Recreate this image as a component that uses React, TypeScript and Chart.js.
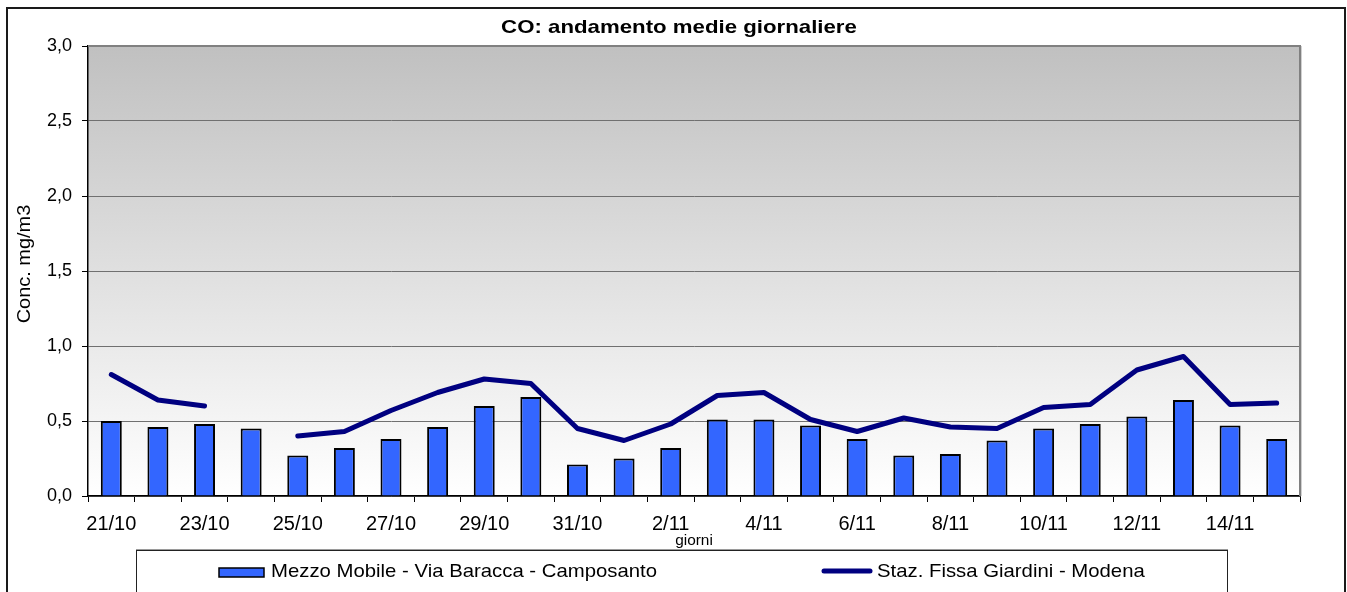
import React, { useEffect, useRef } from "react";
import { Chart, registerables } from "chart.js";

Chart.register(...registerables);

const categories = [
  "21/10", "22/10", "23/10", "24/10", "25/10", "26/10", "27/10", "28/10", "29/10", "30/10", "31/10",
  "1/11", "2/11", "3/11", "4/11", "5/11", "6/11", "7/11", "8/11", "9/11", "10/11", "11/11", "12/11", "13/11", "14/11", "15/11",
];

const mezzoMobile = [
  0.50, 0.46, 0.48, 0.45, 0.27, 0.32, 0.38, 0.46, 0.60, 0.66, 0.21,
  0.25, 0.32, 0.51, 0.51, 0.47, 0.38, 0.27, 0.28, 0.37, 0.45, 0.48, 0.53, 0.64, 0.47, 0.38,
];

const stazFissa: (number | null)[] = [
  0.81, 0.64, 0.60, null, 0.40, 0.43, 0.57, 0.69, 0.78, 0.75, 0.45,
  0.37, 0.48, 0.67, 0.69, 0.51, 0.43, 0.52, 0.46, 0.45, 0.59, 0.61, 0.84, 0.93, 0.61, 0.62,
];

const yTicks = [0, 0.5, 1.0, 1.5, 2.0, 2.5, 3.0];

const TITLE = "CO: andamento medie giornaliere";
const Y_TITLE = "Conc. mg/m3";
const X_TITLE = "giorni";
const BAR_LABEL = "Mezzo Mobile - Via Baracca - Camposanto";
const LINE_LABEL = "Staz. Fissa Giardini - Modena";

const FONT = '"Liberation Sans", Arial, sans-serif';
const BAR_COLOR = "#3366FF";
const LINE_COLOR = "#000080";

function stretchedText(
  ctx: CanvasRenderingContext2D,
  text: string,
  x: number,
  y: number,
  sx: number,
  align: CanvasTextAlign,
  rotate = 0
) {
  ctx.save();
  ctx.translate(x, y);
  if (rotate) ctx.rotate(rotate);
  ctx.scale(sx, 1);
  ctx.textAlign = align;
  ctx.textBaseline = "middle";
  ctx.fillText(text, 0, 0);
  ctx.restore();
}

const decorPlugin = {
  id: "decor",
  beforeDraw(chart: any) {
    const { ctx, chartArea: a } = chart;
    ctx.save();
    ctx.fillStyle = "#ffffff";
    ctx.fillRect(0, 0, chart.width, chart.height);
    const g = ctx.createLinearGradient(0, a.top, 0, a.bottom);
    g.addColorStop(0, "#c0c0c0");
    g.addColorStop(1, "#ffffff");
    ctx.fillStyle = g;
    ctx.fillRect(a.left, a.top, a.right - a.left, a.bottom - a.top);
    ctx.restore();
  },
  afterDraw(chart: any) {
    const { ctx, chartArea: a } = chart;
    ctx.save();
    ctx.strokeStyle = "#808080";
    ctx.lineWidth = 2;
    ctx.beginPath();
    ctx.moveTo(a.left, a.top);
    ctx.lineTo(a.right, a.top);
    ctx.lineTo(a.right, a.bottom);
    ctx.stroke();
    ctx.strokeStyle = "#d0d0d0";
    ctx.lineWidth = 1;
    ctx.beginPath();
    ctx.moveTo(a.right + 1.5, a.top);
    ctx.lineTo(a.right + 1.5, a.bottom);
    ctx.stroke();

    ctx.strokeStyle = "#1a1a1a";
    ctx.lineWidth = 2;
    ctx.strokeRect(7, 8, 1338, 620);

    ctx.fillStyle = "#000";
    ctx.font = `bold 19px ${FONT}`;
    stretchedText(ctx, TITLE, 679, 28, 1.17, "center");

    ctx.font = `19px ${FONT}`;
    stretchedText(ctx, Y_TITLE, 25, 264, 1.05, "center", -Math.PI / 2);

    ctx.font = `14px ${FONT}`;
    stretchedText(ctx, X_TITLE, (a.left + a.right) / 2, 541, 1.1, "center");

    ctx.strokeStyle = "#9a9a9a";
    ctx.lineWidth = 1;
    ctx.beginPath();
    ctx.moveTo(136, 549.5);
    ctx.lineTo(1228, 549.5);
    ctx.stroke();
    ctx.strokeStyle = "#222";
    ctx.strokeRect(136.5, 550.5, 1091, 80);

    const ds = chart.data.datasets;
    ctx.fillStyle = BAR_COLOR;
    ctx.fillRect(219, 568, 45, 9);
    ctx.strokeStyle = "#000";
    ctx.lineWidth = 1.5;
    ctx.strokeRect(219, 568, 45, 9);
    ctx.fillStyle = "#000";
    ctx.font = `19px ${FONT}`;
    stretchedText(ctx, ds[0].label, 271, 572, 1.07, "left");

    ctx.strokeStyle = LINE_COLOR;
    ctx.lineWidth = 5;
    ctx.lineCap = "round";
    ctx.beginPath();
    ctx.moveTo(824, 571);
    ctx.lineTo(870, 571);
    ctx.stroke();
    ctx.fillStyle = "#000";
    stretchedText(ctx, ds[1].label, 877, 572, 1.07, "left");
    ctx.restore();
  },
};

export default function App() {
  const ref = useRef<HTMLCanvasElement>(null);

  useEffect(() => {
    if (!ref.current) return;
    const chart = new Chart(ref.current, {
      type: "bar",
      data: {
        labels: categories,
        datasets: [
          {
            type: "bar",
            label: BAR_LABEL,
            data: mezzoMobile,
            backgroundColor: BAR_COLOR,
            borderColor: "#000000",
            borderWidth: 2,
            categoryPercentage: 1,
            barPercentage: 0.45,
            order: 2,
          },
          {
            type: "line",
            label: LINE_LABEL,
            data: stazFissa,
            borderColor: LINE_COLOR,
            backgroundColor: LINE_COLOR,
            borderWidth: 5,
            pointRadius: 0,
            spanGaps: false,
            tension: 0,
            borderCapStyle: "round",
            borderJoinStyle: "round",
            order: 1,
          } as any,
        ],
      },
      options: {
        responsive: false,
        animation: false,
        events: [],
        layout: { padding: { top: 46, right: 47, left: 0, bottom: 0 } },
        plugins: {
          legend: { display: false },
          title: { display: false },
          tooltip: { enabled: false },
        },
        scales: {
          x: {
            type: "category",
            offset: true,
            grid: {
              display: true,
              offset: true,
              drawOnChartArea: false,
              drawTicks: true,
              tickLength: 6,
              tickColor: "#000",
              tickWidth: 1,
            },
            border: { display: true, color: "#000", width: 1.5 },
            ticks: {
              autoSkip: false,
              maxRotation: 0,
              minRotation: 0,
              padding: 10,
              color: "#000",
              font: { family: FONT, size: 20 },
              callback: (_v: any, i: number) => (i % 2 === 0 ? categories[i] : ""),
            },
            afterFit: (s: any) => {
              s.height = 96;
            },
          },
          y: {
            type: "linear",
            min: yTicks[0],
            max: yTicks[yTicks.length - 1],
            afterBuildTicks: (s: any) => {
              s.ticks = yTicks.map((v) => ({ value: v }));
            },
            grid: {
              color: "#707070",
              lineWidth: 1,
              drawTicks: true,
              tickLength: 6,
              tickColor: "#000",
            },
            border: { display: true, color: "#000", width: 1.5 },
            ticks: {
              padding: 10,
              color: "#000",
              font: { family: FONT, size: 18 },
              callback: (v: any) => Number(v).toFixed(1).replace(".", ","),
            },
            afterFit: (s: any) => {
              s.width = 88;
            },
          },
        },
      },
      plugins: [decorPlugin],
    });
    return () => chart.destroy();
  }, []);

  return (
    <div style={{ position: "fixed", left: 0, top: 0, width: 1347, height: 592, background: "#fff" }}>
      <canvas ref={ref} width={1347} height={592} style={{ display: "block", width: 1347, height: 592 }} />
    </div>
  );
}
